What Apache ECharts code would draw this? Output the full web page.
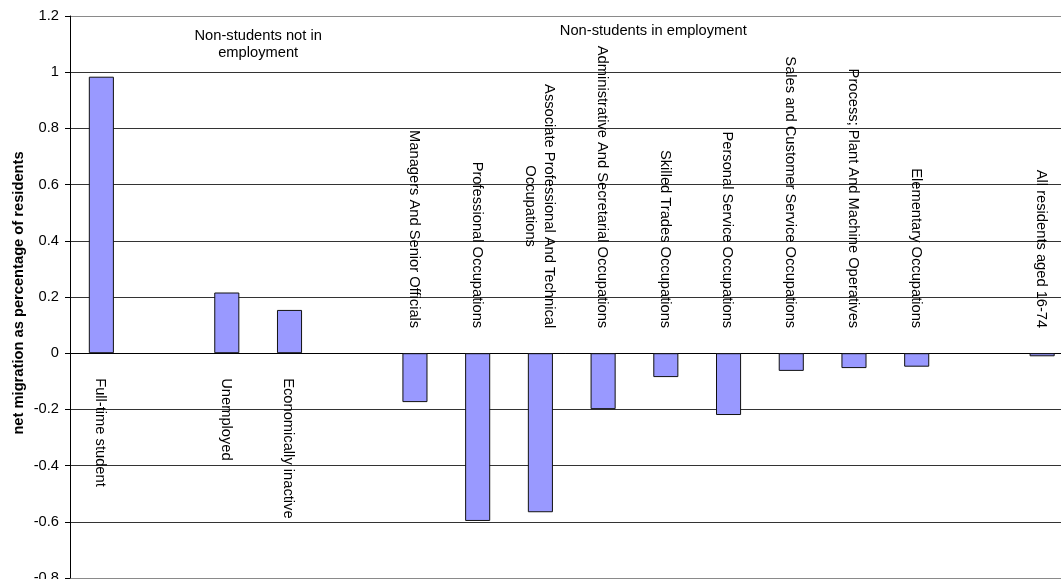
<!DOCTYPE html>
<html>
<head>
<meta charset="utf-8">
<script src="https://cdn.jsdelivr.net/npm/echarts@6/dist/echarts.min.js"></script>
<style>
  html, body { margin: 0; padding: 0; background: #fff; }
  #chart { width: 1061px; height: 579px; }
</style>
</head>
<body>
<div id="chart"></div>
<script>
// Category slots; empty names are spacer slots between the groups.
const categories = [
  'Full-time student', '', 'Unemployed', 'Economically inactive', '',
  'Managers And Senior Officials', 'Professional Occupations',
  'Associate Professional And Technical\nOccupations',
  'Administrative And Secretarial Occupations', 'Skilled Trades Occupations',
  'Personal Service Occupations', 'Sales and Customer Service Occupations',
  'Process; Plant And Machine Operatives', 'Elementary Occupations', '',
  'All residents aged 16-74'
];

// Net migration as a percentage of residents, one value per slot.
const netMigration = [
  0.984, null, 0.216, 0.154, null,
  -0.174, -0.597, -0.566, -0.199, -0.085, -0.220, -0.063, -0.053, -0.048, null,
  -0.011
];

// Group headings: [slot position, value level, text]
const groupHeadings = [
  [2.5, 1.10, 'Non-students not in\nemployment'],
  [8.8, 1.146, 'Non-students in employment']
];

const yTicks = { min: -0.8, max: 1.2, interval: 0.2 };
const axisTitle = 'net migration as percentage of residents';

const FONT = '"Liberation Sans", Arial, sans-serif';
const FS = 14.7;
const LABEL_GAP = 25;

const measureCtx = document.createElement('canvas').getContext('2d');
function textWidth(str) {
  measureCtx.font = FS + 'px ' + FONT;
  return Math.max.apply(null, str.split('\n').map(s => measureCtx.measureText(s).width));
}

// Grid line colours: outer edges lighter than the inner lines.
const nLines = Math.round((yTicks.max - yTicks.min) / yTicks.interval) + 1;
const splitColors = [];
for (let i = 0; i < nLines; i++) {
  splitColors.push(i === 0 || i === nLines - 1 ? '#8a8a8a' : '#333333');
}

const chart = echarts.init(document.getElementById('chart'), null, { renderer: 'canvas' });

chart.setOption({
  animation: false,
  backgroundColor: '#ffffff',
  grid: {
    left: 70, top: 16, bottom: 1, right: -12.5,
    containLabel: false,
    outerBoundsMode: 'none'
  },
  xAxis: {
    type: 'category',
    data: categories,
    axisLine: { onZero: true, lineStyle: { color: '#000', width: 1 } },
    axisTick: { show: false },
    axisLabel: { show: false },
    splitLine: { show: false }
  },
  yAxis: {
    type: 'value',
    min: yTicks.min,
    max: yTicks.max,
    interval: yTicks.interval,
    name: axisTitle,
    nameLocation: 'middle',
    nameGap: 44,
    nameMoveOverlap: false,
    nameTextStyle: {
      fontFamily: FONT, fontSize: FS, fontWeight: 'bold', color: '#000',
      padding: [0, 0, 0, 8]
    },
    axisLine: { show: true, lineStyle: { color: '#000', width: 1 } },
    axisTick: { show: true, length: 5, inside: false, lineStyle: { color: '#000' } },
    axisLabel: {
      fontFamily: FONT, fontSize: FS, color: '#000', margin: 11,
      formatter: v => String(Math.round(v * 10) / 10)
    },
    splitLine: { show: true, lineStyle: { color: splitColors, width: 1 } }
  },
  series: [
    {
      type: 'bar',
      data: netMigration,
      barWidth: '40%',
      itemStyle: { color: '#9999ff', borderColor: '#111', borderWidth: 1 },
      z: 2
    },
    {
      // Rotated category names beside the zero line, on the side away from each bar.
      type: 'custom',
      data: categories.map((c, i) => [i, netMigration[i] == null ? 0 : netMigration[i]]),
      renderItem: function (params, api) {
        const idx = api.value(0);
        const name = categories[idx];
        if (!name) return null;
        const val = api.value(1);
        const p = api.coord([idx, 0]);
        const w = textWidth(name);
        const offset = LABEL_GAP + w / 2;
        const y = val >= 0 ? p[1] + offset : p[1] - offset;
        return {
          type: 'text',
          x: p[0] - 1,
          y: y,
          rotation: -Math.PI / 2,
          style: {
            text: name,
            fontFamily: FONT,
            fontSize: FS,
            fill: '#000',
            align: 'center',
            verticalAlign: 'middle',
            lineHeight: 19
          }
        };
      },
      z: 3,
      silent: true
    },
    {
      // Group headings above the bars.
      type: 'custom',
      data: groupHeadings.map(g => [g[0], g[1]]),
      renderItem: function (params, api) {
        const g = groupHeadings[params.dataIndex];
        const pos = g[0];
        const i0 = Math.floor(pos);
        const frac = pos - i0;
        const a = api.coord([i0, g[1]]);
        const b = api.coord([i0 + 1, g[1]]);
        return {
          type: 'text',
          x: a[0] + (b[0] - a[0]) * frac,
          y: a[1],
          style: {
            text: g[2],
            fontFamily: FONT,
            fontSize: FS,
            fill: '#000',
            align: 'center',
            verticalAlign: 'middle',
            lineHeight: 17
          }
        };
      },
      z: 3,
      silent: true
    }
  ]
});
</script>
</body>
</html>
